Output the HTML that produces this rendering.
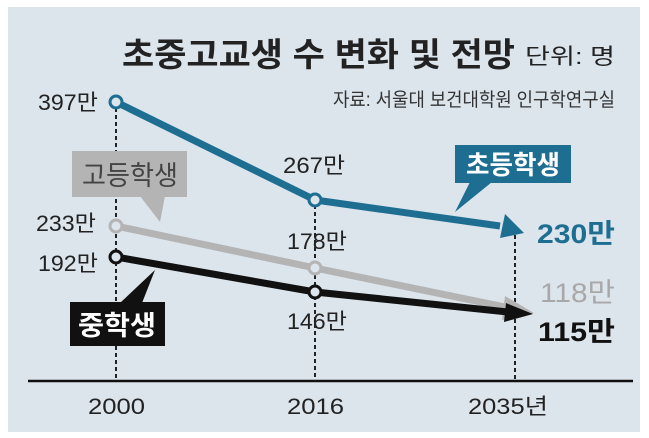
<!DOCTYPE html>
<html><head><meta charset="utf-8"><style>
body{margin:0;background:#fff;}
svg{display:block;font-family:"Liberation Sans","Noto Sans CJK KR",sans-serif;}
</style></head><body>
<svg width="649" height="438" viewBox="0 0 649 438">
<rect x="8" y="7" width="632" height="425" fill="#dce4ec"/>
<text x="122" y="66" font-size="33" font-weight="bold" fill="#222" textLength="393" lengthAdjust="spacingAndGlyphs">초중고교생 수 변화 및 전망</text>
<text x="525" y="64" font-size="22" fill="#222" textLength="90" lengthAdjust="spacingAndGlyphs">단위: 명</text>
<text x="333" y="106" font-size="19" fill="#333" textLength="282" lengthAdjust="spacingAndGlyphs">자료: 서울대 보건대학원 인구학연구실</text>
<g stroke="#222" stroke-width="2" stroke-dasharray="4,3">
<line x1="116" y1="108" x2="116" y2="381"/>
<line x1="315" y1="205" x2="315" y2="381"/>
<line x1="515" y1="228" x2="515" y2="381"/>
</g>
<line x1="28" y1="381" x2="633" y2="381" stroke="#111" stroke-width="2.5"/>
<g font-size="22" fill="#222">
<text x="88" y="414" textLength="57" lengthAdjust="spacingAndGlyphs">2000</text>
<text x="287" y="414" textLength="57" lengthAdjust="spacingAndGlyphs">2016</text>
<text x="468" y="414" textLength="80" lengthAdjust="spacingAndGlyphs">2035년</text>
</g>
<!-- gray -->
<polyline points="116,226 315,268 510,308" fill="none" stroke="#b4b4b4" stroke-width="7"/>
<polygon points="505,296 534,313 502,320" fill="#b4b4b4"/>
<!-- black -->
<polyline points="116,257 315,292 508,312" fill="none" stroke="#111" stroke-width="7"/>
<polygon points="506,303 533,314 504,322" fill="#111"/>
<!-- blue -->
<polyline points="116,102 315,200 500,226" fill="none" stroke="#1e6e92" stroke-width="7"/>
<polygon points="505,214 524,233 500,238" fill="#1e6e92"/>
<g stroke-width="3" fill="#dce4ec">
<circle cx="116" cy="102" r="6" stroke="#1e6e92"/><circle cx="315" cy="200" r="6" stroke="#1e6e92"/>
<circle cx="116" cy="226" r="6" stroke="#b4b4b4"/><circle cx="315" cy="268" r="6" stroke="#b4b4b4"/>
<circle cx="116" cy="257" r="6" stroke="#111"/><circle cx="315" cy="292" r="6" stroke="#111"/>
</g>
<rect x="455" y="145" width="116" height="38" fill="#1e6e92"/>
<polygon points="470,182 492,182 455,212" fill="#1e6e92"/>
<text x="466" y="174" font-size="26" font-weight="bold" fill="#fff" textLength="94" lengthAdjust="spacingAndGlyphs">초등학생</text>
<rect x="72" y="151" width="115" height="46" fill="#b4b4b4"/>
<polygon points="140,196 165,196 160,222" fill="#b4b4b4"/>
<text x="82" y="185" font-size="27" fill="#444" textLength="96" lengthAdjust="spacingAndGlyphs">고등학생</text>
<rect x="70" y="302" width="95" height="44" fill="#111"/>
<polygon points="120,303 142,303 155,270" fill="#111"/>
<text x="78" y="335" font-size="27" font-weight="bold" fill="#fff" textLength="78" lengthAdjust="spacingAndGlyphs">중학생</text>
<g font-size="22" fill="#222">
<text x="38" y="110" textLength="60" lengthAdjust="spacingAndGlyphs">397만</text>
<text x="36" y="231" textLength="60" lengthAdjust="spacingAndGlyphs">233만</text>
<text x="38" y="271" textLength="60" lengthAdjust="spacingAndGlyphs">192만</text>
<text x="283" y="173" textLength="62" lengthAdjust="spacingAndGlyphs">267만</text>
<text x="287" y="249" textLength="60" lengthAdjust="spacingAndGlyphs">178만</text>
<text x="287" y="329" textLength="60" lengthAdjust="spacingAndGlyphs">146만</text>
</g>
<text x="537" y="243" font-size="27" font-weight="bold" fill="#1e6e92" textLength="78" lengthAdjust="spacingAndGlyphs">230만</text>
<text x="540" y="302" font-size="27" fill="#a8a8a8" textLength="75" lengthAdjust="spacingAndGlyphs">118만</text>
<text x="538" y="341" font-size="27" font-weight="bold" fill="#111" textLength="77" lengthAdjust="spacingAndGlyphs">115만</text>
</svg>
</body></html>
